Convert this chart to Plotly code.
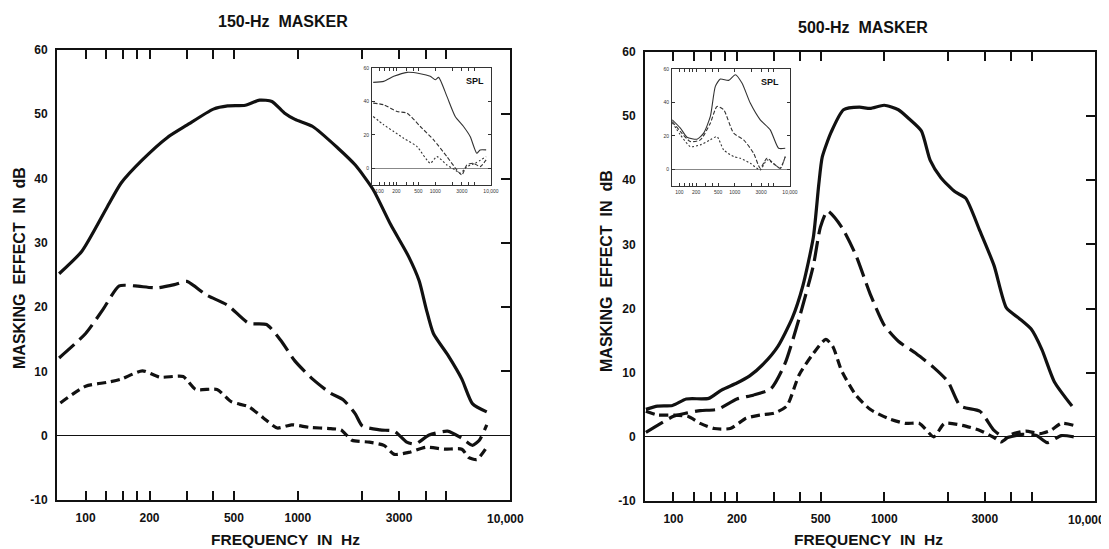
import math
import plotly.graph_objects as go

# ---------------- data (frequency in Hz, masking effect in dB) ----------------
# Left panel: 150-Hz masker
L_solid_f = [75, 96, 126, 147, 185, 243, 300, 400, 467, 566, 660, 755, 864, 970, 1175, 1538, 1866, 2263, 2743, 3325, 3730, 4030, 4355, 5080, 5930, 6650, 7770]
L_solid_db = [25.2, 28.7, 35.5, 39.3, 42.9, 46.4, 48.3, 50.8, 51.3, 51.4, 52.2, 52.0, 50.2, 49.2, 48.1, 44.8, 42.1, 38.3, 32.8, 27.9, 24.1, 19.7, 15.9, 12.6, 8.8, 5.0, 3.7]

L_long_f = [75, 100, 121, 144, 171, 216, 262, 300, 370, 467, 587, 712, 832, 970, 1175, 1428, 1635, 1866, 2015, 2440, 2850, 3260, 3580, 4160, 5080, 5930, 6650, 7170, 7770]
L_long_db = [12.1, 15.9, 19.7, 23.3, 23.3, 23.0, 23.5, 24.0, 21.9, 20.3, 17.5, 17.3, 14.8, 11.6, 8.8, 6.6, 5.6, 3.4, 1.5, 0.9, 0.7, -1.0, -1.3, 0.1, 0.7, -0.4, -1.5, -0.7, 1.7]

L_short_f = [76, 100, 126, 147, 185, 224, 288, 330, 416, 485, 587, 686, 800, 934, 1134, 1428, 1600, 1800, 2175, 2545, 2850, 3330, 4030, 4900, 5930, 6400, 6980, 7770]
L_short_db = [5.1, 7.7, 8.3, 8.8, 10.1, 9.1, 9.2, 7.2, 7.2, 5.3, 4.5, 2.8, 1.2, 1.7, 1.3, 1.1, 0.9, -0.7, -1.0, -1.5, -2.9, -2.6, -1.8, -2.1, -2.1, -3.4, -3.7, -1.8]

# Right panel: 500-Hz masker
R_solid_f = [74, 84, 99, 115, 147, 169, 200, 230, 268, 313, 366, 410, 461, 489, 508, 560, 641, 763, 857, 1000, 1167, 1311, 1500, 1653, 1857, 2168, 2436, 2844, 3320, 3800, 4355, 4980, 5600, 6410, 7780]
R_solid_db = [4.3, 4.8, 4.9, 5.9, 6.0, 7.3, 8.4, 9.5, 11.4, 14.1, 18.5, 23.4, 31.1, 39.3, 43.6, 47.5, 51.0, 51.4, 51.2, 51.7, 51.0, 49.6, 47.7, 43.1, 40.4, 38.2, 37.2, 32.1, 26.7, 20.1, 18.5, 16.8, 13.6, 8.6, 4.8]

R_long_f = [74, 84, 100, 115, 134, 162, 200, 239, 290, 338, 395, 461, 498, 538, 628, 734, 857, 1000, 1167, 1416, 1719, 2008, 2298, 2844, 3320, 3724, 4520, 5280, 5930, 6920, 7925]
R_long_db = [0.7, 1.8, 3.2, 3.7, 4.1, 4.3, 5.9, 6.5, 7.5, 11.4, 18.5, 26.7, 32.7, 35.2, 32.7, 28.3, 22.3, 17.4, 14.9, 13.0, 10.8, 8.6, 4.8, 4.0, 1.0, -0.1, 0.4, 0.2, -0.9, 0.2, 0.0]

R_short_f = [74, 84, 100, 117, 134, 156, 186, 221, 258, 301, 345, 395, 461, 528, 570, 628, 734, 857, 1039, 1260, 1470, 1719, 1930, 2345, 2844, 3320, 3590, 4030, 4700, 5480, 6160, 6920, 7925]
R_short_db = [4.0, 3.4, 3.4, 3.2, 2.1, 1.3, 1.3, 2.9, 3.4, 3.7, 4.8, 9.7, 13.0, 15.2, 14.1, 10.3, 6.5, 4.3, 2.9, 2.1, 2.1, 0.0, 2.1, 1.8, 1.0, -0.1, -0.8, 0.4, 0.9, 0.5, 1.0, 2.1, 1.8]

# Insets (SPL)
LI_solid_f = [77, 119, 180, 311, 539, 813, 1000, 1148, 1618, 2281, 3215, 4230, 5560, 6380, 8180]
LI_solid_db = [51.4, 52, 55, 57.4, 56.6, 55, 53, 54.4, 43, 31, 25, 19, 9, 11, 11]
LI_long_f = [77, 119, 206, 311, 539, 933, 1618, 2440, 3000, 3690, 4860, 6380, 8180]
LI_long_db = [39, 38, 34, 33, 25, 17, 7, -1, -4, 2, 3, 1, 5]
LI_short_f = [77, 119, 180, 271, 470, 813, 1072, 1618, 2281, 2800, 3690, 5200, 8180]
LI_short_db = [31, 26, 22, 18, 13, 3, 7, 2, -1, -3, 1, 3, 7]

RI_solid_f = [74, 104, 137, 208, 274, 362, 446, 549, 776, 1024, 1352, 1910, 2896, 4390, 6220, 8200]
RI_solid_db = [29.6, 24.6, 19.2, 18, 21.6, 31.6, 49.6, 54, 53.2, 56.6, 51.6, 39.6, 29.6, 23.6, 12.6, 12.6]
RI_long_f = [74, 104, 157, 239, 362, 478, 631, 955, 1449, 2198, 2896, 3830, 5410, 6670, 8200]
RI_long_db = [28.6, 22.6, 16.6, 17.6, 27.6, 37.6, 35.6, 21.6, 17.6, 9.6, 0.6, 6.6, 2.6, 0.6, 7.6]
RI_short_f = [74, 104, 157, 239, 362, 478, 631, 955, 1262, 1910, 2896, 3830, 5410, 6670, 8200]
RI_short_db = [28, 20.6, 13.6, 14.6, 17.6, 19.6, 11.6, 7.6, 6.6, 3.6, -0.4, 5.6, 2.6, 0.6, 7.6]

# axis ticks
x_tickvals = [100, 125, 150, 175, 200, 300, 400, 500, 1000, 2000, 3000, 4000, 5000, 10000]
x_ticktext = ["100", "", "", "", "200", "", "", "500", "1000", "", "3000", "", "", ""]
x_end_value = 10000
x_end_label = "10,000"
y_tickvals = [-10, 0, 10, 20, 30, 40, 50, 60]
y_ticktext = ["-10", "0", "10", "20", "30", "40", "50", "60"]
y_right_ticks = [10, 20, 30, 40, 50]
inset_xtext = ["100", "", "", "", "200", "", "", "500", "1000", "", "3000", "", "", "10,000"]
inset_yvals = [0, 20, 40, 60]

# The page body has an 8 px margin, so the figure starts at window (8, 8).
OFF = 8
W, H = 1109 - OFF, 549 - OFF
def dx(a, b):
    return [(a - OFF) / W, (b - OFF) / W]
def dy(top, bottom):
    return [1 - (bottom - OFF) / H, 1 - (top - OFF) / H]

LOGRANGE = [1.865, 4.0]
FONT = "Liberation Sans"
BLACK = "#111111"

fig = go.Figure()

def add_main(fs, dbs, xa, ya, dash):
    fig.add_trace(go.Scatter(x=fs, y=dbs, xaxis=xa, yaxis=ya, mode="lines",
                             line=dict(color=BLACK, width=3.2, dash=dash, shape="spline", smoothing=0.6),
                             hoverinfo="skip"))

def add_inset(fs, dbs, xa, ya, dash):
    fig.add_trace(go.Scatter(x=fs, y=dbs, xaxis=xa, yaxis=ya, mode="lines",
                             line=dict(color="#333333", width=1.1, dash=dash, shape="spline", smoothing=0.6),
                             hoverinfo="skip"))

LONG = "20px,7px"
SHORT = "9px,5px"
add_main(L_solid_f, L_solid_db, "x", "y", "solid")
add_main(L_long_f, L_long_db, "x", "y", LONG)
add_main(L_short_f, L_short_db, "x", "y2", SHORT)
add_main(R_solid_f, R_solid_db, "x3", "y3", "solid")
add_main(R_long_f, R_long_db, "x3", "y3", LONG)
add_main(R_short_f, R_short_db, "x3", "y4", SHORT)
add_inset(LI_solid_f, LI_solid_db, "x5", "y5", "solid")
add_inset(LI_long_f, LI_long_db, "x5", "y5", "4px,2px")
add_inset(LI_short_f, LI_short_db, "x5", "y5", "2px,2px")
add_inset(RI_solid_f, RI_solid_db, "x6", "y6", "solid")
add_inset(RI_long_f, RI_long_db, "x6", "y6", "4px,2px")
add_inset(RI_short_f, RI_short_db, "x6", "y6", "2px,2px")

tickfont = dict(family=FONT, size=12, color=BLACK, weight="bold")

def main_x(domain, anchor):
    return dict(type="log", range=LOGRANGE, domain=domain, anchor=anchor, automargin=False,
                showline=True, linecolor=BLACK, linewidth=2, mirror="ticks",
                ticks="inside", ticklen=9, tickwidth=1.6, tickcolor=BLACK,
                tickvals=x_tickvals, ticktext=x_ticktext, tickfont=tickfont,
                ticklabelstandoff=6, ticklabeloverflow="allow",
                showgrid=False, zeroline=False, fixedrange=True)

def main_y(domain, anchor):
    return dict(range=[-10, 60], domain=domain, anchor=anchor, automargin=False,
                showline=True, linecolor=BLACK, linewidth=2, mirror=True,
                ticks="", tickvals=y_tickvals, ticktext=y_ticktext, tickfont=tickfont,
                ticklabelstandoff=5, ticklabeloverflow="allow", showgrid=False,
                zeroline=True, zerolinecolor=BLACK, zerolinewidth=1.4, fixedrange=True)

def right_y(over, anchor):
    return dict(range=[-10, 60], overlaying=over, side="right", anchor=anchor, automargin=False,
                ticks="inside", ticklen=9, tickwidth=1.6, tickcolor=BLACK,
                tickvals=y_right_ticks, showticklabels=False, showline=False,
                showgrid=False, zeroline=False, fixedrange=True)

inset_font = dict(family=FONT, size=5, color="#333333")

def inset_x(domain, anchor):
    return dict(type="log", range=LOGRANGE, domain=domain, anchor=anchor, automargin=False,
                showline=True, linecolor="#333333", linewidth=1, mirror="ticks",
                ticks="inside", ticklen=3, tickwidth=0.8, tickcolor="#333333",
                tickvals=x_tickvals, ticktext=inset_xtext, tickfont=inset_font,
                ticklabelstandoff=1, showgrid=False, zeroline=False, fixedrange=True)

def inset_y(domain, anchor):
    return dict(range=[-10, 60], domain=domain, anchor=anchor, automargin=False,
                showline=True, linecolor="#333333", linewidth=1, mirror="ticks",
                ticks="inside", ticklen=3, tickwidth=0.8, tickcolor="#333333",
                tickvals=inset_yvals, tickfont=inset_font, ticklabelstandoff=1,
                showgrid=False, zeroline=True, zerolinecolor="#888888", zerolinewidth=1.2,
                fixedrange=True)

fig.update_layout(
    width=W, height=H, margin=dict(l=0, r=0, t=0, b=0, pad=0),
    paper_bgcolor="white", plot_bgcolor="white", showlegend=False,
    xaxis=main_x(dx(57, 510), "y"),
    yaxis=main_y(dy(50, 500), "x"),
    yaxis2=right_y("y", "x"),
    xaxis3=main_x(dx(645, 1095), "y3"),
    yaxis3=main_y(dy(52, 501), "x3"),
    yaxis4=right_y("y3", "x3"),
    xaxis5=inset_x(dx(372, 491), "y5"),
    yaxis5=inset_y(dy(68, 185), "x5"),
    xaxis6=inset_x(dx(672, 790), "y6"),
    yaxis6=inset_y(dy(69, 186), "x6"),
)

# "10,000" end labels, placed through the log axes and nudged inward like the original
for xr, yr, shift in (("x", "y", -5), ("x3", "y3", -9)):
    fig.add_annotation(text=x_end_label, xref=xr, yref=yr, x=math.log10(x_end_value), y=-10,
                       xanchor="center", yanchor="top", xshift=shift, yshift=-10,
                       showarrow=False, font=tickfont)

def note(text, px, py, size, angle=0, bold=True):
    fig.add_annotation(text=text, x=(px - OFF) / W, y=1 - (py - OFF) / H, xref="paper", yref="paper",
                       showarrow=False, textangle=angle, xanchor="center", yanchor="middle",
                       font=dict(family=FONT, size=size, color=BLACK, weight="bold" if bold else "normal"))

note("150-Hz&nbsp;&nbsp;MASKER", 283, 22, 16)
note("500-Hz&nbsp;&nbsp;MASKER", 863, 27, 16)
note("MASKING&nbsp;&nbsp;EFFECT&nbsp;&nbsp;IN&nbsp;&nbsp;dB", 19, 268, 16, angle=-90)
note("MASKING&nbsp;&nbsp;EFFECT&nbsp;&nbsp;IN&nbsp;&nbsp;dB", 607, 271, 16, angle=-90)
note("FREQUENCY&nbsp;&nbsp;IN&nbsp;&nbsp;Hz", 285, 539, 15.5)
note("FREQUENCY&nbsp;&nbsp;IN&nbsp;&nbsp;Hz", 868, 539, 15.5)
note("SPL", 475, 81, 9)
note("SPL", 770, 82, 9)

fig.write_html("out.html")
